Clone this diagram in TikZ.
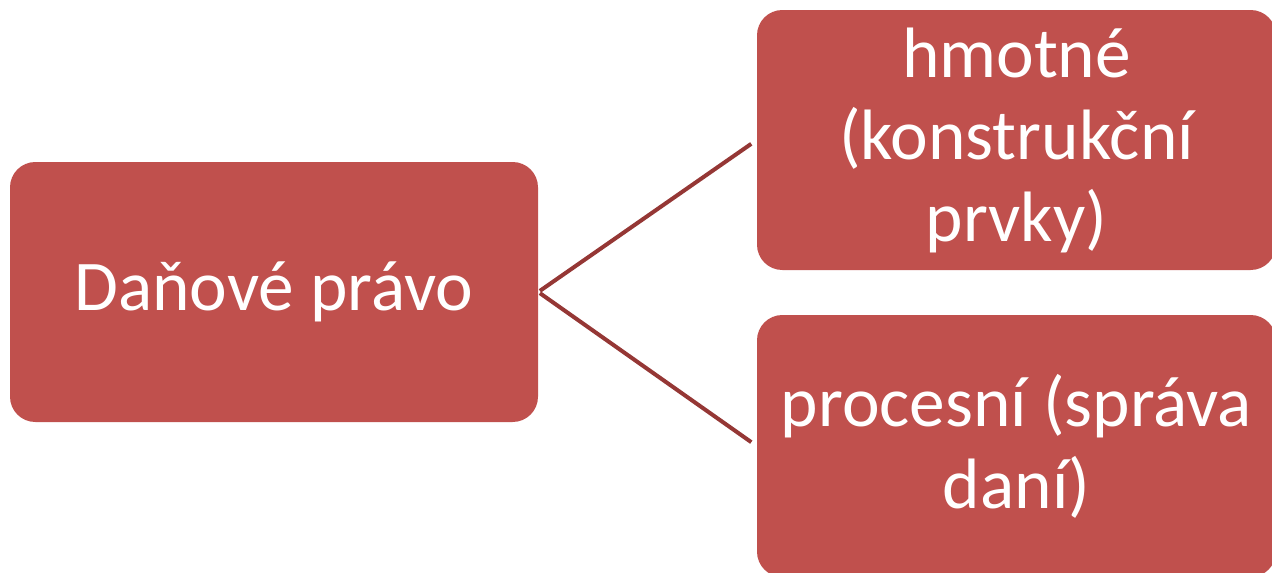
\documentclass[tikz,border=0pt]{standalone}
\usepackage{fontspec}
\setmainfont{Carlito}
\definecolor{boxfill}{HTML}{C0504D}
\definecolor{linkcol}{HTML}{953735}
\begin{document}
\begin{tikzpicture}[x=0.75pt,y=-0.75pt,
  box/.style={rectangle, rounded corners=19pt, fill=boxfill, draw=none,
    text=white, align=center, inner sep=0pt,
    font=\fontsize{53.5}{61.5}\selectfont},
  link/.style={draw=linkcol, line width=3pt}]
  \useasboundingbox (0,0) rectangle (1272,572);
  \node[box, minimum width=396pt, minimum height=195pt] (root) at (274,292) {Daňové právo};
  \node[box, minimum width=389.25pt, minimum height=195pt] (mat) at (1016.5,140) {hmotné\\(konstrukční\\prvky)};
  \node[box, minimum width=389.25pt, minimum height=196.5pt] (proc) at (1016.5,446) {procesní (správa\\daní)};
  \draw[link, shorten <=1.5pt, shorten >=5pt] (root.east) -- (mat.west);
  \draw[link, shorten <=1.5pt, shorten >=5pt] (root.east) -- (proc.west);
\end{tikzpicture}
\end{document}
